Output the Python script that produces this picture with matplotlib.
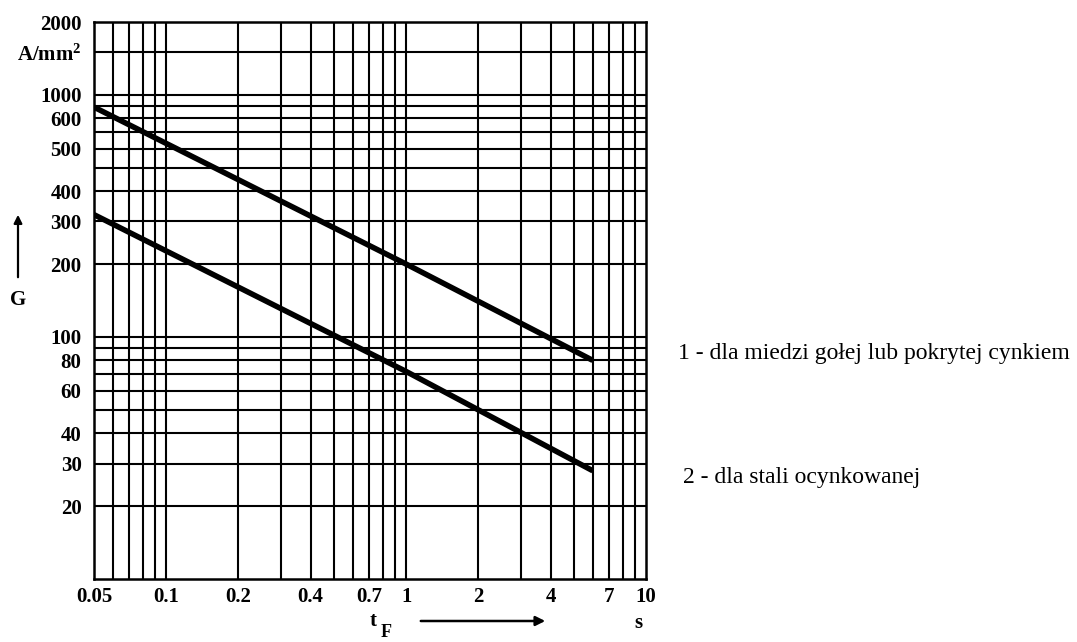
import matplotlib
matplotlib.use("Agg")
import matplotlib.pyplot as plt

# ---- data ----
t_line = [0.05, 1.0, 6.0]
G_copper = [890, 200, 80]     # curve 1
G_steel = [320, 72, 28]       # curve 2

x_grid = [0.06, 0.07, 0.08, 0.09, 0.1, 0.2, 0.3, 0.4, 0.5, 0.6, 0.7, 0.8, 0.9,
          1, 2, 3, 4, 5, 6, 7, 8, 9]
y_grid = [20, 30, 40, 50, 60, 70, 80, 90, 100, 200, 300, 400, 500, 600, 700,
          800, 900, 1000, 1500]

x_ticks = [0.05, 0.1, 0.2, 0.4, 0.7, 1, 2, 4, 7, 10]
x_labels = ['0.05', '0.1', '0.2', '0.4', '0.7', '1', '2', '4', '7', '10']
y_ticks = [2000, 1500, 1000, 800, 600, 400, 300, 200, 100, 80, 60, 40, 30, 20]
y_labels = ['2000', r'A/mm$^{\mathbf{2}}$', '1000', '600', '500', '400', '300',
            '200', '100', '80', '60', '40', '30', '20']

legend_1 = '1 - dla miedzi gołej lub pokrytej cynkiem'
legend_2 = '2 - dla stali ocynkowanej'

plt.rcParams['font.family'] = ['Liberation Serif', 'DejaVu Serif']
plt.rcParams['mathtext.fontset'] = 'custom'
plt.rcParams['mathtext.rm'] = 'Liberation Serif:bold'
plt.rcParams['mathtext.bf'] = 'Liberation Serif:bold'
plt.rcParams['mathtext.it'] = 'Liberation Serif:bold'

fig = plt.figure(figsize=(10.77, 6.42), dpi=100)
ax = fig.add_axes([94/1077, 1-579/642, (646-94)/1077, (579-22)/642])
ax.set_xscale('log')
ax.set_yscale('log')
ax.set_xlim(0.05, 10)
ax.set_ylim(10, 2000)

for xv in x_grid:
    ax.axvline(xv, color='black', lw=1.5, zorder=1)
for yv in y_grid:
    ax.axhline(yv, color='black', lw=1.5, zorder=1)

ax.plot(t_line, G_copper, color='black', lw=4.0, solid_capstyle='butt', zorder=3)
ax.plot(t_line, G_steel, color='black', lw=4.0, solid_capstyle='butt', zorder=3)

for s in ax.spines.values():
    s.set_linewidth(1.8)

ax.xaxis.set_minor_locator(matplotlib.ticker.NullLocator())
ax.yaxis.set_minor_locator(matplotlib.ticker.NullLocator())
ax.set_xticks(x_ticks)
ax.set_xticklabels(x_labels, fontweight='bold', fontsize=15)
ax.set_yticks(y_ticks)
ax.set_yticklabels(y_labels, fontweight='bold', fontsize=15)
ax.tick_params(axis='y', length=0, pad=9)
ax.tick_params(axis='x', length=0, pad=6)

# axis labels and arrows
fig.text(18/1077, 1-300/642, 'G', fontsize=15, fontweight='bold', ha='center', va='center')
fig.add_artist(matplotlib.patches.FancyArrowPatch(
    (18/1077, 1-280/642), (18/1077, 1-212/642), transform=fig.transFigure,
    arrowstyle='-|>', mutation_scale=12, color='black', lw=1.6))
fig.text(373/1077, 1-626/642, 't', fontsize=15, fontweight='bold', ha='center', va='baseline')
fig.text(386/1077, 1-641/642, 'F', fontsize=13, fontweight='bold', ha='center', va='bottom')
fig.add_artist(matplotlib.patches.FancyArrowPatch(
    (418/1077, 1-621/642), (548/1077, 1-621/642), transform=fig.transFigure,
    arrowstyle='-|>', mutation_scale=14, color='black', lw=1.8))
fig.text(638/1077, 1-623/642, 's', fontsize=15, fontweight='bold', ha='center', va='center')

fig.text(678/1077, 1-353/642, legend_1, fontsize=17, ha='left', va='center')
fig.text(683/1077, 1-477/642, legend_2, fontsize=17, ha='left', va='center')

fig.savefig('out.png', dpi=100)
